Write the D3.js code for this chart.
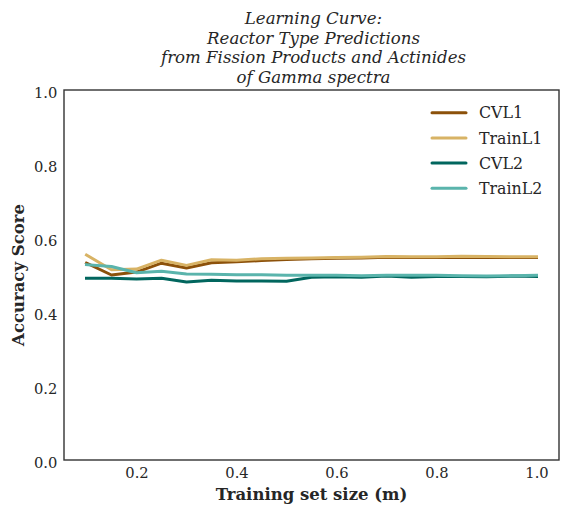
<!DOCTYPE html>
<html><head><meta charset="utf-8">
<script src="https://cdn.jsdelivr.net/npm/d3@7"></script>
<style>body{margin:0;background:#fff}svg{display:block}svg text{font-family:'DejaVu Serif',serif}</style>
</head><body><svg id="c" width="570" height="514"></svg>
<script>
const trainSizes = [0.1,0.15,0.2,0.25,0.3,0.35,0.4,0.45,0.5,0.55,0.6,0.65,0.7,0.75,0.8,0.85,0.9,0.95,1.0];
const cvL1    = [0.532,0.500,0.508,0.532,0.519,0.533,0.536,0.539,0.542,0.544,0.545,0.546,0.548,0.547,0.547,0.548,0.547,0.547,0.547];
const trainL1 = [0.554,0.514,0.516,0.540,0.526,0.541,0.540,0.544,0.545,0.546,0.547,0.548,0.550,0.549,0.549,0.551,0.550,0.549,0.549];
const cvL2    = [0.491,0.491,0.489,0.491,0.481,0.486,0.484,0.484,0.483,0.494,0.495,0.494,0.497,0.494,0.496,0.496,0.495,0.497,0.496];
const trainL2 = [0.528,0.523,0.506,0.510,0.503,0.502,0.501,0.501,0.499,0.499,0.499,0.498,0.499,0.499,0.499,0.498,0.497,0.498,0.499];
const seriesNames = ["CVL1","TrainL1","CVL2","TrainL2"];
const seriesColors = ["#8c510a","#d8b365","#01665e","#5ab4ac"];
const xTicks = [0.2,0.4,0.6,0.8,1.0];
const yTicks = [0.0,0.2,0.4,0.6,0.8,1.0];
const titleLines = ["Learning Curve:","Reactor Type Predictions","from Fission Products and Actinides","of Gamma spectra"];

const series = [cvL1, trainL1, cvL2, trainL2];
const svg = d3.select("#c");
const font = "'DejaVu Serif', serif";
const txt = "#262626";
const L=64,R=559,T=90,B=460;
const x = d3.scaleLinear().domain([0.055,1.045]).range([L,R]);
const y = d3.scaleLinear().domain([0,1]).range([B,T]);

// title
svg.append("g").selectAll("text").data(titleLines).join("text")
  .attr("x",(L+R)/2+2).attr("y",(d,i)=>24.3+i*19.5)
  .attr("text-anchor","middle").style("font-family",font).style("font-style","italic")
  .style("font-size","16.6px").attr("fill",txt).text(d=>d);

// axes
const xa = svg.append("g").attr("transform",`translate(0,${B})`)
  .call(d3.axisBottom(x).tickValues(xTicks).tickFormat(d3.format(".1f")).tickSize(0).tickPadding(7.3));
const ya = svg.append("g").attr("transform",`translate(${L},0)`)
  .call(d3.axisLeft(y).tickValues(yTicks).tickFormat(d3.format(".1f")).tickSize(0).tickPadding(6.7));
[xa,ya].forEach(a=>{a.attr("font-family",null).attr("font-size",null);a.select(".domain").remove();a.selectAll("text").style("font-family",font).style("font-size","14.7px").attr("fill",txt);});
ya.selectAll("text").attr("dy","0.5em");

// lines
const line = d3.line().x((d,i)=>x(trainSizes[i])).y(d=>y(d));
svg.append("g").selectAll("path").data(series).join("path")
  .attr("d",line).attr("fill","none").attr("stroke",(d,i)=>seriesColors[i])
  .attr("stroke-width",3).attr("stroke-linejoin","round").attr("stroke-linecap","square");

// frame
svg.append("rect").attr("x",L).attr("y",T).attr("width",R-L).attr("height",B-T)
  .attr("fill","none").attr("stroke","#333").attr("stroke-width",1.4);

// labels
svg.append("text").attr("x",(L+R)/2).attr("y",500).attr("text-anchor","middle")
  .style("font-family",font).style("font-weight","bold").style("font-size","16.5px").attr("fill",txt)
  .text("Training set size (m)");
svg.append("text").attr("transform",`translate(24,${(T+B)/2}) rotate(-90)`).attr("text-anchor","middle")
  .style("font-family",font).style("font-weight","bold").style("font-size","16.5px").attr("fill",txt)
  .text("Accuracy Score");

// legend
const lg = svg.append("g").selectAll("g").data(seriesNames).join("g")
  .attr("transform",(d,i)=>`translate(431,${112.7+i*25.2})`);
lg.append("line").attr("x1",1).attr("x2",35).attr("stroke",(d,i)=>seriesColors[i]).attr("stroke-width",3).attr("stroke-linecap","round");
lg.append("text").attr("x",48).attr("y",5.6).style("font-family",font).style("font-size","15.8px").attr("fill",txt).text(d=>d);
</script></body></html>
